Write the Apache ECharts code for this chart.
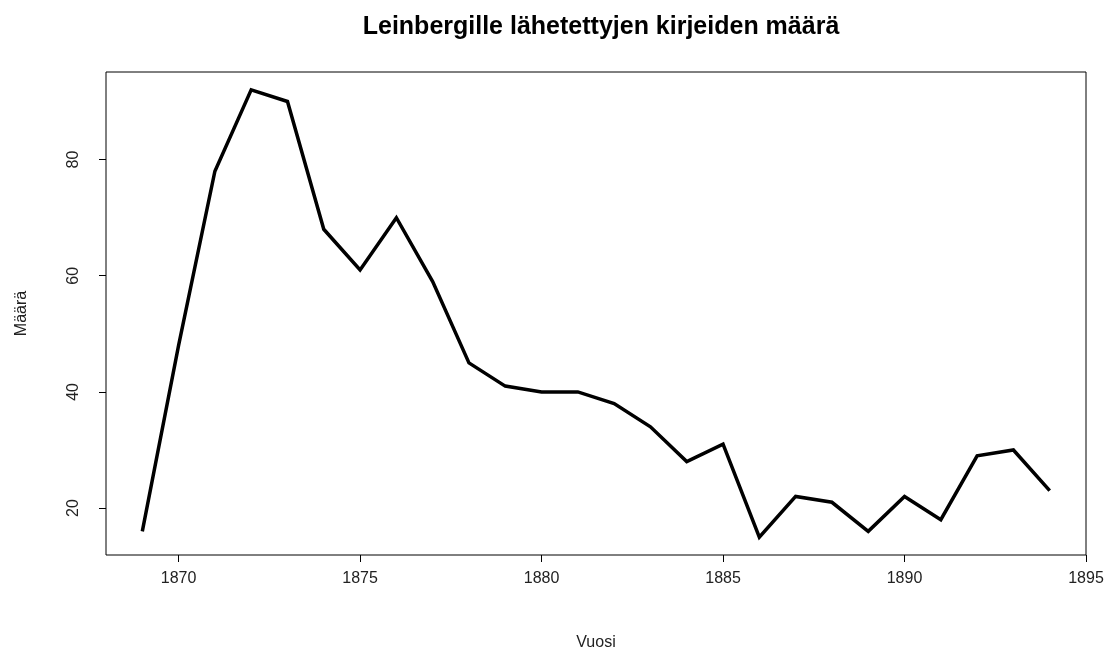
<!DOCTYPE html>
<html>
<head>
<meta charset="utf-8">
<script src="https://cdn.jsdelivr.net/npm/echarts@6/dist/echarts.min.js"></script>
<style>
  html, body { margin: 0; padding: 0; background: #fff; }
  #main { width: 1114px; height: 655px; }
</style>
</head>
<body>
<div id="main"></div>
<script>
// vuodet ja kirjeiden määrät
const years = [1869, 1870, 1871, 1872, 1873, 1874, 1875, 1876, 1877, 1878, 1879, 1880, 1881,
  1882, 1883, 1884, 1885, 1886, 1887, 1888, 1889, 1890, 1891, 1892, 1893, 1894];
const counts = [16, 48, 78, 92, 90, 68, 61, 70, 59, 45, 41, 40, 40,
  38, 34, 28, 31, 15, 22, 21, 16, 22, 18, 29, 30, 23];
const xTicks = [1870, 1875, 1880, 1885, 1890, 1895];
const yTicks = [20, 40, 60, 80];

// R:n tapaan 4 % lisätilaa molempiin päihin
function pad(arr) {
  const lo = Math.min(...arr), hi = Math.max(...arr);
  const d = (hi - lo) * 0.04;
  return [lo - d, hi + d];
}
const xr = pad(years);
const yr = pad(counts);

const chart = echarts.init(document.getElementById('main'));
const txt = '#222';
chart.setOption({
  animation: false,
  title: {
    text: 'Leinbergille lähetettyjen kirjeiden määrä',
    left: 596,
    top: 10,
    textAlign: 'center',
    textStyle: { fontFamily: 'Liberation Sans', fontSize: 25, fontWeight: 'bold', color: '#000' }
  },
  grid: {
    left: 106, right: 28, top: 72, bottom: 100,
    containLabel: false, outerBoundsMode: 'none',
    show: true, borderColor: '#000', borderWidth: 1, backgroundColor: 'transparent'
  },
  xAxis: {
    type: 'value',
    min: xr[0], max: xr[1],
    name: 'Vuosi',
    nameLocation: 'middle',
    nameGap: 80,
    nameTextStyle: { fontFamily: 'Liberation Sans', fontSize: 16, color: txt },
    axisLine: { show: false },
    splitLine: { show: false },
    axisTick: { show: true, inside: false, length: 7, customValues: xTicks, lineStyle: { color: '#000' } },
    axisLabel: { customValues: xTicks, formatter: v => String(v), margin: 16, fontFamily: 'Liberation Sans', fontSize: 16, color: txt }
  },
  yAxis: {
    type: 'value',
    min: yr[0], max: yr[1],
    name: 'Määrä',
    nameLocation: 'middle',
    nameGap: 76,
    nameRotate: 90,
    nameTextStyle: { fontFamily: 'Liberation Sans', fontSize: 16, color: txt },
    axisLine: { show: false },
    splitLine: { show: false },
    axisTick: { show: true, inside: false, length: 7, customValues: yTicks, lineStyle: { color: '#000' } },
    axisLabel: { customValues: yTicks, formatter: v => String(v), rotate: 90, margin: 24, fontFamily: 'Liberation Sans', fontSize: 16, color: txt }
  },
  series: [{
    type: 'line',
    data: years.map((y, i) => [y, counts[i]]),
    showSymbol: false,
    lineStyle: { color: '#000', width: 3.5, join: 'miter' },
    silent: true
  }]
});
</script>
</body>
</html>
